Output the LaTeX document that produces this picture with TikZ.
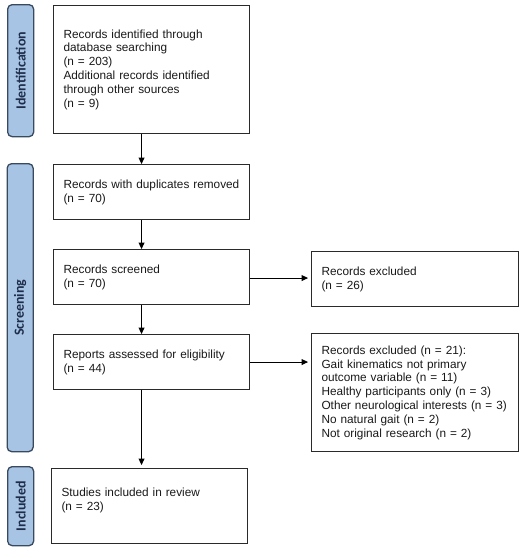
\documentclass[tikz,border=0pt]{standalone}
\usepackage{fontspec}
\setmainfont{Liberation Sans}
\newfontfamily\sidefont{Carlito}
\usetikzlibrary{arrows.meta}
\definecolor{sidefill}{HTML}{A7C4E5}
\definecolor{sidedraw}{HTML}{3A4A5E}
\definecolor{sidetext}{HTML}{1E2E4A}
\definecolor{boxdraw}{HTML}{2A2A2A}
\tikzset{
  box/.style={draw=boxdraw, line width=1.1pt, anchor=north west, align=left,
    inner xsep=10pt, inner ysep=0pt, font=\fontsize{11.8}{13.8}\selectfont, text=black!90},
  sidebar/.style={draw=sidedraw, fill=sidefill, line width=1.3pt, rounded corners=4.5pt,
    minimum width=26pt, anchor=north west, inner sep=0pt},
  sidelabel/.style={rotate=90, font=\sidefont\bfseries\fontsize{14}{15}\selectfont, text=sidetext},
  arr/.style={draw=black, line width=1pt, -{Triangle[length=6.5pt,width=6pt]}}
}
\begin{document}
\begin{tikzpicture}[x=1pt,y=-1pt]
\useasboundingbox (0,0) rectangle (523,550);
% side bars
\node[sidebar, minimum height=132pt] (sid) at (7,4) {};
\node[sidelabel] (sidl) at (sid.center) {Identification};
\node[sidebar, minimum height=288pt] (sscr) at (6.5,163) {};
\node[sidelabel] (sscrl) at (sscr.center) {Screening};
\node[sidebar, minimum height=79pt] (sinc) at (7,466) {};
\node[sidelabel] (sincl) at (sinc.center) {Included};
% boxes
\node[box, text width=176pt, minimum height=128pt] (id) at (53,5)
  {Records identified through\\database searching\\(n = 203)\\Additional records identified\\through other sources\\(n = 9)};
\node[box, text width=176pt, minimum height=55pt] (dup) at (53,164)
  {Records with duplicates removed\\(n = 70)};
\node[box, text width=176pt, minimum height=55pt] (scr) at (53,249)
  {Records screened\\(n = 70)};
\node[box, text width=187pt, minimum height=55pt] (exa) at (311,251)
  {Records excluded\\(n = 26)};
\node[box, text width=176pt, minimum height=55pt] (rep) at (53,334)
  {Reports assessed for eligibility\\(n = 44)};
\node[box, text width=187pt, minimum height=118pt] (exb) at (311,333)
  {Records excluded (n = 21):\\Gait kinematics not primary\\outcome variable (n = 11)\\Healthy participants only (n = 3)\\Other neurological interests (n = 3)\\No natural gait (n = 2)\\Not original research (n = 2)};
\node[box, text width=176pt, minimum height=75pt] (inc) at (51,468)
  {Studies included in review\\(n = 23)\\\mbox{}};
% connectors
\draw[arr] ([xshift=-10pt]id.south) -- ([xshift=-10pt]id.south |- dup.north);
\draw[arr] ([xshift=-10pt]dup.south) -- ([xshift=-10pt]dup.south |- scr.north);
\draw[arr] ([xshift=-10pt]scr.south) -- ([xshift=-10pt]scr.south |- rep.north);
\draw[arr, shorten >=3pt] ([xshift=-10pt]rep.south) -- ([xshift=-10pt]rep.south |- inc.north);
\draw[arr, shorten >=3pt] ([yshift=-1pt]scr.east) -- ([yshift=-1pt]scr.east -| exa.west);
\draw[arr, shorten >=3pt] (rep.east) -- (rep.east -| exb.west);
\end{tikzpicture}
\end{document}
